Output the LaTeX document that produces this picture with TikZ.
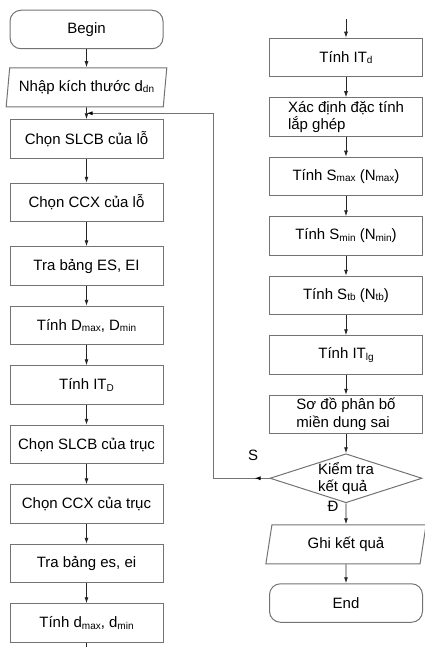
\documentclass[tikz,border=0pt]{standalone}
\usepackage{fontspec}
\setmainfont{Liberation Sans}
\usetikzlibrary{positioning,calc,shapes.geometric,arrows.meta,decorations.markings}
\definecolor{edgegray}{RGB}{115,115,115}
\newcommand{\subsc}[1]{\raisebox{-1.5pt}{\fontsize{10}{10}\selectfont #1}}

\begin{document}
\begin{tikzpicture}[x=1pt,y=-1pt,node distance=20pt,font=\fontsize{15}{17.5}\selectfont,
    proc/.style={draw=edgegray,line width=1pt,minimum width=153pt,minimum height=38.5pt,
      inner sep=2pt,align=left},
    term/.style={proc,rounded corners=11pt},
    io/.style={draw=edgegray,line width=1pt,trapezium,trapezium left angle=80,
      trapezium right angle=100,trapezium stretches=true,minimum width=161pt,
      minimum height=39pt,inner sep=2pt},
    decide/.style={draw=edgegray,line width=1pt,diamond,minimum width=152pt,
      minimum height=49pt,inner sep=0pt},
    tip/.style={-{Latex[length=6pt,width=4pt]}},
    flow/.style={draw=black!85,line width=0.8pt,tip}]
 \useasboundingbox (0,0) rectangle (424,647);

 % left column
 \node[term] (begin) at (86.5,29.5) {Begin};
 \node[io,below=18pt of begin] (input) {Nhập kích thước d\subsc{dn}};
 \node[proc,below=12pt of input] (hole) {Chọn SLCB của lỗ};
 \node[proc,below=24pt of hole] (holeccx) {Chọn CCX của lỗ};
 \node[proc,below=24pt of holeccx] (holedev) {Tra bảng ES, EI};
 \node[proc,below=of holedev] (holelim) {Tính D\subsc{max}, D\subsc{min}};
 \node[proc,below=of holelim] (holetol) {Tính IT\subsc{D}};
 \node[proc,below=of holetol] (shaft) {Chọn SLCB của trục};
 \node[proc,below=of shaft] (shaftccx) {Chọn CCX của trục};
 \node[proc,below=of shaftccx] (shaftdev) {Tra bảng es, ei};
 \node[proc,below=of shaftdev] (shaftlim) {Tính d\subsc{max}, d\subsc{min}};
 \coordinate[below=18pt of shaftlim] (colend);
 \coordinate (join) at ($(input.south)!0.5!(hole.north)$);

 % right column
 \coordinate (colstart) at (346,19);
 \node[proc] (shafttol) at (346,57.5) {Tính IT\subsc{d}};
 \node[proc,below=of shafttol] (fit) {Xác định đặc tính\\lắp ghép};
 \node[proc,below=of fit] (smax) {Tính S\subsc{max} (N\subsc{max})};
 \node[proc,below=of smax] (smin) {Tính S\subsc{min} (N\subsc{min})};
 \node[proc,below=of smin] (savg) {Tính S\subsc{tb} (N\subsc{tb})};
 \node[proc,below=of savg] (fittol) {Tính IT\subsc{lg}};
 \node[proc,below=of fittol] (scheme) {Sơ đồ phân bố\\miền dung sai};
 \node[decide,below=19pt of scheme,
   label={[name=checktxt,align=left]center:Kiểm tra\\kết quả}] (check) {};
 \node[io,below=21pt of check] (output) {Ghi kết quả};
 \node[term,below=19pt of output] (end) {End};
 \coordinate (back) at (213,0);
 \node (no) at (253,455) {S};
 \node (yes) at (333,506) {Đ};

 \foreach \A/\B in {begin/input,input/hole,hole/holeccx,holeccx/holedev,
   holedev/holelim,holelim/holetol,holetol/shaft,shaft/shaftccx,shaftccx/shaftdev,
   shaftdev/shaftlim,shaftlim/colend}
  \draw[flow] (\A) -- (\B);
 \foreach \A/\B in {colstart/shafttol,shafttol/fit,fit/smax,smax/smin,
   smin/savg,savg/fittol,fittol/scheme,scheme/check,check/output,output/end}
  \draw[flow] (\A) -- (\B);

 % back to the start of the hole part
 \draw[edgegray,line width=1pt,postaction={decorate},
   decoration={markings,mark=at position 15pt with {\arrow[black]{Latex[length=6pt,width=4pt]}},
     mark=at position 1 with {\arrow[black]{Latex[length=6pt,width=4pt]}}}]
  (check.west) -- (check.west -| back) -- (back |- join) -- (join);

\end{tikzpicture}
\end{document}
